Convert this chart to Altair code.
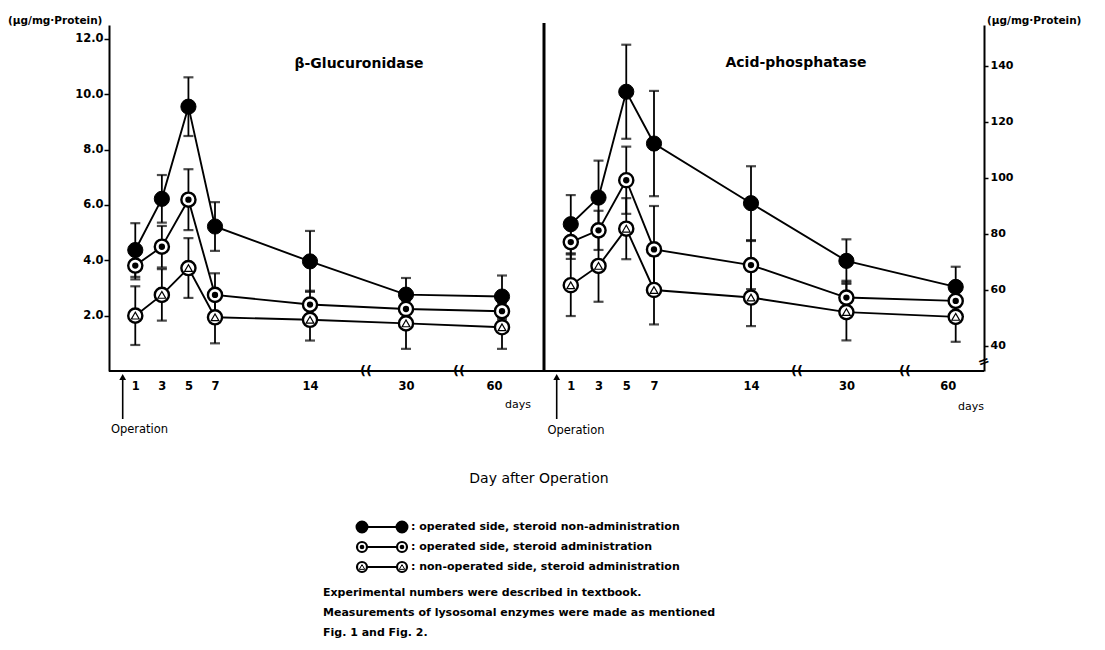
import altair as alt
import pandas as pd

FONT = "DejaVu Sans"

days = [1, 3, 5, 7, 14, 30, 60]
series_keys = ["A", "B", "C"]
legend_texts = [
    ": operated side, steroid non-administration",
    ": operated side, steroid administration",
    ": non-operated side, steroid administration",
]

# beta-Glucuronidase (ug/mg Protein)
glu_a = [4.37, 6.22, 9.55, 5.22, 3.96, 2.76, 2.69]
glu_a_err = [0.97, 0.86, 1.06, 0.88, 1.1, 0.6, 0.76]
glu_b = [3.81, 4.49, 6.19, 2.75, 2.40, 2.24, 2.16]
glu_b_err = [0.5, 0.75, 1.1, 0.78, 0.5, 0.3, 0.3]
glu_c = [2.00, 2.75, 3.72, 1.94, 1.85, 1.72, 1.58]
glu_c_err = [1.06, 0.93, 1.08, 0.94, 0.75, 0.92, 0.78]

# Acid-phosphatase (ug/mg Protein)
acp_a = [83.5, 93.0, 130.8, 112.3, 91.0, 70.4, 61.1]
acp_a_err = [10.4, 13.2, 16.8, 18.8, 13.2, 7.7, 7.2]
acp_b = [77.1, 81.3, 99.2, 74.5, 68.9, 57.3, 56.1]
acp_b_err = [6.0, 7.0, 12.0, 15.5, 8.6, 6.0, 4.0]
acp_c = [61.7, 68.6, 81.9, 60.0, 57.3, 52.1, 50.4]
acp_c_err = [11.0, 12.8, 10.9, 12.3, 10.2, 10.1, 8.9]

left_ticks = [2, 4, 6, 8, 10, 12]
right_ticks = [40, 60, 80, 100, 120, 140]


def long_df(vals_list, errs_list):
    rows = []
    for key, vals, errs in zip(series_keys, vals_list, errs_list):
        for d, v, e in zip(days, vals, errs):
            rows.append({"day": d, "series": key, "value": v, "lo": v - e, "hi": v + e})
    return pd.DataFrame(rows)


def one(text=""):
    return pd.DataFrame({"t": [text]})


def label(text, x, y, size=11, weight="bold", align="center", baseline="middle", angle=0):
    return alt.Chart(one(text)).mark_text(
        font=FONT, fontSize=size, fontWeight=weight, align=align,
        baseline=baseline, color="black", angle=angle
    ).encode(x=alt.value(x), y=alt.value(y), text="t:N")


def vrule(x, y, y2, width=1.5):
    return alt.Chart(one()).mark_rule(color="black", strokeWidth=width).encode(
        x=alt.value(x), y=alt.value(y), y2=alt.value(y2))


def hrule(x, x2, y, width=1.5):
    return alt.Chart(one()).mark_rule(color="black", strokeWidth=width).encode(
        x=alt.value(x), x2=alt.value(x2), y=alt.value(y))


def sym(x, y, **kw):
    return alt.Chart(one()).mark_point(opacity=1, **kw).encode(x=alt.value(x), y=alt.value(y))


def panel(df, xrange, ydomain, yaxis, width, height, extras):
    xenc = alt.X("day:Q",
                 scale=alt.Scale(domain=[0, 7, 14, 30, 60], range=xrange, nice=False, zero=False),
                 axis=alt.Axis(values=days, ticks=False, tickSize=0, domain=False, grid=False,
                               labelPadding=9, labelFont=FONT, labelFontSize=11.5,
                               labelFontWeight="bold", labelColor="black", title=None))

    def yenc(field):
        return alt.Y(field + ":Q", scale=alt.Scale(domain=ydomain, nice=False, zero=False),
                     axis=yaxis)

    base = alt.Chart(df)
    lines = base.mark_line(color="black", strokeWidth=1.9).encode(
        x=xenc, y=yenc("value"), detail="series:N", order="day:Q")
    bars = base.mark_rule(color="black", strokeWidth=1.8).encode(
        x=xenc, y=yenc("lo"), y2="hi:Q")
    cap_lo = base.mark_tick(color="black", orient="horizontal", size=10, thickness=2.2).encode(
        x=xenc, y=yenc("lo"))
    cap_hi = base.mark_tick(color="black", orient="horizontal", size=10, thickness=2.2).encode(
        x=xenc, y=yenc("hi"))
    pa = base.transform_filter(alt.datum.series == "A").mark_point(
        shape="circle", filled=True, fill="black", stroke="black", strokeWidth=1,
        size=230, opacity=1).encode(x=xenc, y=yenc("value"))
    pb = base.transform_filter(alt.datum.series == "B").mark_point(
        shape="circle", filled=True, fill="white", stroke="black", strokeWidth=2.4,
        size=200, opacity=1).encode(x=xenc, y=yenc("value"))
    pb_dot = base.transform_filter(alt.datum.series == "B").mark_point(
        shape="circle", filled=True, fill="black", size=40, opacity=1).encode(
        x=xenc, y=yenc("value"))
    pc = base.transform_filter(alt.datum.series == "C").mark_point(
        shape="circle", filled=True, fill="white", stroke="black", strokeWidth=2.4,
        size=200, opacity=1).encode(x=xenc, y=yenc("value"))
    pc_tri = base.transform_filter(alt.datum.series == "C").mark_point(
        shape="triangle-up", filled=True, fill="white", stroke="black", strokeWidth=1.2,
        size=60, opacity=1).encode(x=xenc, y=yenc("value"))
    axis_line = hrule(0, width, height, 2)
    return alt.layer(lines, bars, cap_lo, cap_hi, pa, pb, pb_dot, pc, pc_tri,
                     axis_line, *extras).properties(width=width, height=height)


H = 346
LW = 435
RW = 440

left_axis = alt.Axis(values=left_ticks, format=".1f", title=None, grid=False, tickSize=5,
                     tickWidth=1.5, tickColor="black", domainWidth=2, domainColor="black",
                     labelColor="black", labelFont=FONT, labelFontSize=11.5,
                     labelFontWeight="bold", labelPadding=1)
right_axis = alt.Axis(values=right_ticks, format="d", orient="right", title=None, grid=False,
                      tickSize=4, tickWidth=1.5, tickColor="black", domainWidth=2,
                      domainColor="black", labelColor="black", labelFont=FONT,
                      labelFontSize=11, labelFontWeight="bold", labelPadding=2)

# legend graphics (left chart coordinates)
legend_rows = [502, 522, 542]
legend_extras = []
for i, (key, txt) in enumerate(zip(series_keys, legend_texts)):
    yy = legend_rows[i]
    legend_extras.append(hrule(253, 293, yy, 1.8))
    for xx in (253, 293):
        if key == "A":
            legend_extras.append(sym(xx, yy, shape="circle", filled=True, fill="black",
                                     stroke="black", size=120))
        elif key == "B":
            legend_extras.append(sym(xx, yy, shape="circle", filled=True, fill="white",
                                     stroke="black", strokeWidth=2.2, size=100))
            legend_extras.append(sym(xx, yy, shape="circle", filled=True, fill="black", size=22))
        else:
            legend_extras.append(sym(xx, yy, shape="circle", filled=True, fill="white",
                                     stroke="black", strokeWidth=2.2, size=100))
            legend_extras.append(sym(xx, yy, shape="triangle-up", filled=True, fill="white",
                                     stroke="black", strokeWidth=1, size=30))
    legend_extras.append(label(txt, 302, yy, size=11, align="left"))

left_extras = [
    label("(\u03bcg/mg\u00b7Protein)", -101, -4, size=10.5, align="left"),
    label("\u03b2-Glucuronidase", 250, 39, size=14),
    label("days", 409, 380, size=11, weight="normal"),
    vrule(13.7, 352, 394, 1.6),
    sym(13.7, 352, shape="triangle-up", filled=True, fill="black", size=45),
    label("Operation", 30.5, 405, size=11.5, weight="normal"),
    label("((", 257, H, size=13),
    label("((", 350, H, size=13),
    label("Day after Operation", 430, 454, size=14, weight="normal"),
    label("Experimental numbers were described in textbook.", 214, 568, size=11, align="left"),
    label("Measurements of lysosomal enzymes were made as mentioned", 214, 588, size=11,
          align="left"),
    label("Fig. 1 and Fig. 2.", 214, 608, size=11, align="left"),
] + legend_extras

right_extras = [
    vrule(0, -2, H, 3),
    label("Acid-phosphatase", 252, 38, size=14),
    label("(\u03bcg/mg\u00b7Protein)", 443, -4, size=10.5, align="left"),
    label("days", 427, 382, size=11, weight="normal"),
    vrule(12.7, 352, 394, 1.6),
    sym(12.7, 352, shape="triangle-up", filled=True, fill="black", size=45),
    label("Operation", 32, 406, size=11.5, weight="normal"),
    label("((", 253, H, size=13),
    label("((", 361, H, size=13),
    label("=", RW, 337, size=14, angle=340),
]

left = panel(long_df([glu_a, glu_b, glu_c], [glu_a_err, glu_b_err, glu_c_err]),
             [13, 106, 201, 297, 393], [0, 12.5], left_axis, LW, H, left_extras)
right = panel(long_df([acp_a, acp_b, acp_c], [acp_a_err, acp_b_err, acp_c_err]),
              [12.9, 110, 207, 302.4, 411.7], [31.07, 154.64], right_axis, RW, H, right_extras)

chart = alt.hconcat(left, right, spacing=0, bounds="flush").configure_view(
    stroke=None
).properties(
    padding={"left": 0, "top": 8, "right": 0, "bottom": 0}
)

chart.save("out.html", embed_options={"renderer": "svg", "actions": False})
